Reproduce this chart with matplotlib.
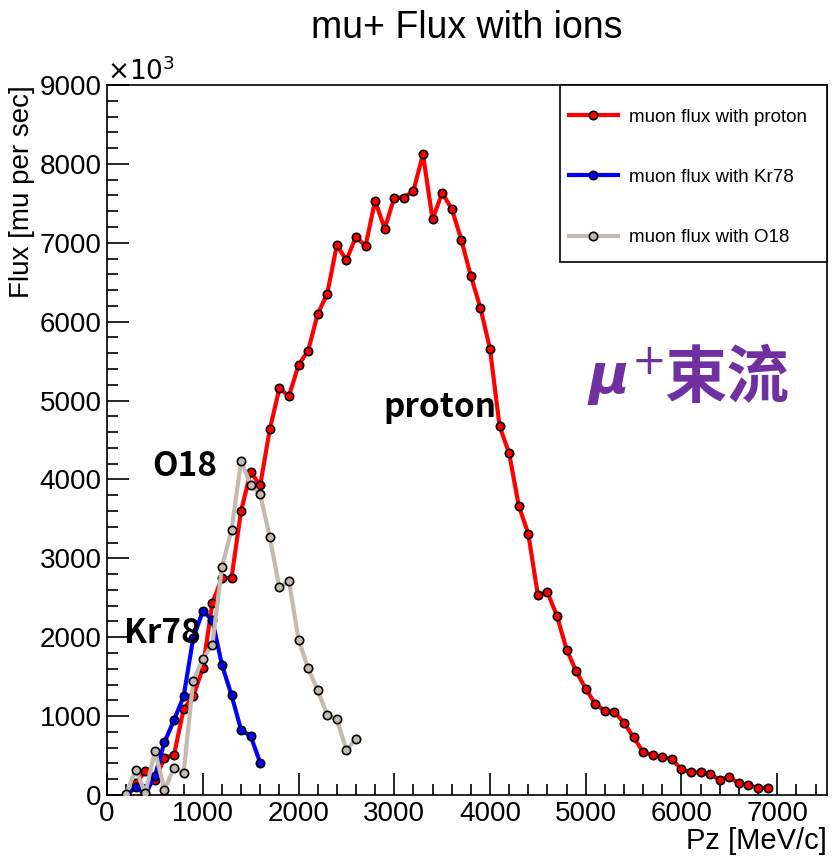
import numpy as np
import matplotlib.pyplot as plt
from matplotlib.patches import Rectangle
from matplotlib.ticker import MultipleLocator

# Pz [MeV/c] and flux (x10^3 mu per sec)
pz_proton = np.arange(300, 7000, 100)
flux_proton = [150, 300, 190, 470, 510, 1090, 1250, 1605, 2435, 2750,
               2750, 3600, 4095, 3925, 4635, 5154, 5057, 5450, 5631, 6096,
               6354, 6971, 6781, 7076, 6958, 7535, 7180, 7573, 7573, 7659,
               8120, 7300, 7631, 7433, 7040, 6578, 6176, 5653, 4677, 4331,
               3670, 3310, 2535, 2569, 2270, 1844, 1569, 1347, 1153, 1068,
               1052, 916, 731, 545, 507, 485, 452, 326, 288, 288,
               266, 190, 228, 148, 127, 89, 89]

pz_kr = np.arange(200, 1700, 100)
flux_kr = [0, 97, 15, 240, 670, 950, 1250, 1990, 2330, 2220,
           1650, 1267, 824, 748, 409]

pz_o = np.arange(200, 2700, 100)
flux_o = [13, 323, 20, 562, 63, 346, 280, 1447, 1725, 1905,
          2894, 3355, 4235, 3935, 3810, 3265, 2632, 2712, 1971, 1606,
          1331, 1014, 963, 570, 710]

plt.rcParams['font.family'] = ['Liberation Sans', 'DejaVu Sans']

fig = plt.figure(figsize=(8.33, 8.58), dpi=100)
ax = fig.add_axes([0.1285, 0.0734, 0.8643, 0.8275])

ax.plot(pz_proton, flux_proton, color='#ff0000', lw=3, marker='o', ms=6,
        mfc='#ff0000', mec='black', mew=1.2, label='muon flux with proton', zorder=3)
ax.plot(pz_kr, flux_kr, color='#0000ff', lw=3, marker='o', ms=6,
        mfc='#0000ff', mec='black', mew=1.2, label='muon flux with Kr78', zorder=4)
ax.plot(pz_o, flux_o, color='#c3bab1', lw=3, marker='o', ms=6,
        mfc='#c3bab1', mec='black', mew=1.2, label='muon flux with O18', zorder=5)

ax.set_xlim(0, 7520)
ax.set_ylim(0, 9000)
ax.xaxis.set_major_locator(MultipleLocator(1000))
ax.xaxis.set_minor_locator(MultipleLocator(200))
ax.yaxis.set_major_locator(MultipleLocator(1000))
ax.yaxis.set_minor_locator(MultipleLocator(200))
ax.tick_params(which='both', direction='in', top=False, right=False,
               labelsize=20, width=1.2)
ax.tick_params(which='major', length=16, pad=4)
ax.tick_params(which='minor', length=8)
for s in ax.spines.values():
    s.set_linewidth(1.2)

ax.set_title('mu+ Flux with ions', fontsize=27, pad=34)
ax.set_xlabel('Pz [MeV/c]', fontsize=21, loc='right', labelpad=0)
ax.set_ylabel('Flux [mu per sec]', fontsize=20, loc='top')
ax.yaxis.set_label_coords(-0.100, 1.0)
ax.text(0.0, 1.0, r'$\times10^{3}$', transform=ax.transAxes, fontsize=19,
        va='bottom', ha='left')

# legend box (ROOT style), entries placed inside
ax.add_patch(Rectangle((0.629, 0.751), 0.371, 0.249, transform=ax.transAxes,
                       fill=True, facecolor='white', edgecolor='black',
                       lw=1.2, zorder=7, clip_on=False))
leg = ax.legend(loc='upper left', bbox_to_anchor=(0.6417, 0.967), fontsize=13.5,
                frameon=False, borderpad=0, labelspacing=2.3, handlelength=2.6,
                handletextpad=0.6, borderaxespad=0)
leg.set_zorder(8)

lab_font = ['Noto Sans CJK SC', 'DejaVu Sans']
ax.text(815, 4170, 'O18', fontsize=24, fontweight='bold', ha='center',
        va='center', family=lab_font, zorder=6)
ax.text(3477, 4918, 'proton', fontsize=24, fontweight='bold', ha='center',
        va='center', family=lab_font, zorder=6)
ax.text(574, 2053, 'Kr78', fontsize=24, fontweight='bold', ha='center',
        va='center', family=lab_font, zorder=6)

purple = '#7030a0'
fig.text(588 / 833, 1 - 393 / 858, 'μ', fontsize=40, fontweight='bold',
         style='italic', color=purple, family=['DejaVu Sans'], va='baseline')
fig.text(632 / 833, 1 - 374 / 858, '+', fontsize=30,
         color=purple, family=['DejaVu Sans'], va='baseline')
fig.text(664 / 833, 1 - 397 / 858, '束流', fontsize=45, fontweight='bold',
         color=purple, family=['Noto Sans CJK SC'], va='baseline')

fig.savefig('out.png', dpi=100)
